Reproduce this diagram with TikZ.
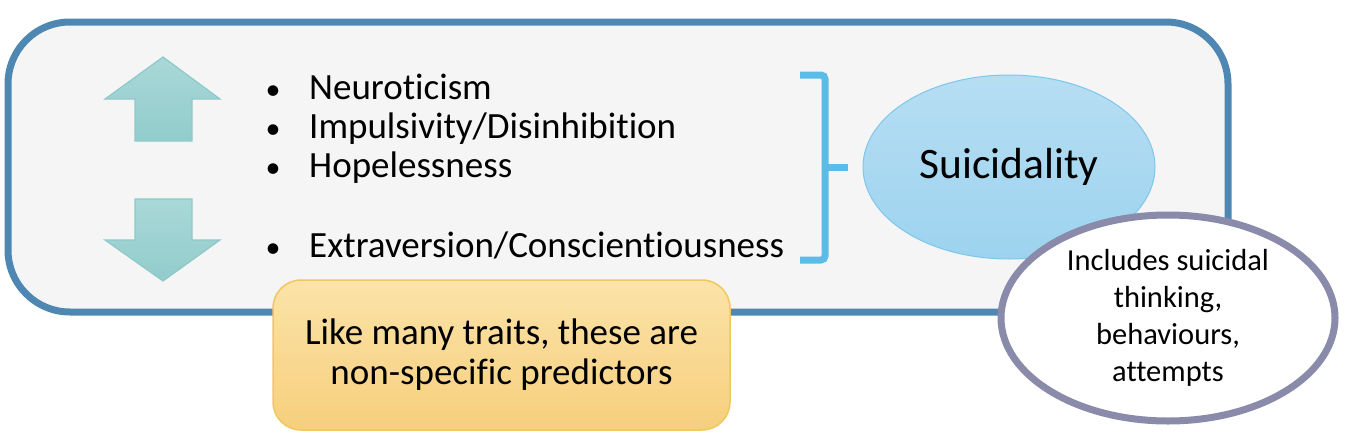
\documentclass[tikz,border=0pt]{standalone}
\usepackage{fontspec}
\setmainfont[Ligatures=NoCommon]{Carlito}
\usetikzlibrary{shapes.geometric}
\definecolor{boxedge}{HTML}{4E88B2}
\definecolor{boxfill}{HTML}{F5F5F5}
\definecolor{arrowtop}{HTML}{A9D8D8}
\definecolor{arrowbot}{HTML}{92CCCC}
\definecolor{arrowedge}{HTML}{8FC9C9}
\definecolor{brack}{HTML}{5CBCE8}
\definecolor{suitop}{HTML}{B6DEF3}
\definecolor{suibot}{HTML}{9DD3EF}
\definecolor{suiedge}{HTML}{7FC7EA}
\definecolor{incedge}{HTML}{8A8AAA}
\definecolor{yeltop}{HTML}{FBE3A8}
\definecolor{yelbot}{HTML}{F6CF7D}
\definecolor{yeledge}{HTML}{F0C860}
\tikzset{
  bigfont/.style={font=\fontsize{37}{40}\selectfont, text=black},
  itemtext/.style={bigfont, anchor=base west, inner sep=0pt},
  bullettext/.style={font=\fontsize{30}{30}\selectfont, text=black, anchor=base, inner sep=0pt},
  arrowshape/.style={top color=arrowtop, bottom color=arrowbot, draw=arrowedge, line width=1.2pt},
}
\begin{document}
\begin{tikzpicture}[x=1pt,y=-1pt]
\useasboundingbox (0,0) rectangle (1346,439);
% main rounded box
\draw[line width=7pt, draw=boxedge, fill=boxfill, rounded corners=62pt] (8,22) rectangle (1228,312);
% arrows
\draw[arrowshape] (163,57) -- (220,99) -- (192,99) -- (192,141) -- (135,141) -- (135,99) -- (105,99) -- cycle;
\draw[arrowshape] (135,199) -- (192,199) -- (192,240) -- (220,240) -- (163,281) -- (105,240) -- (135,240) -- cycle;
% bullet list
\node[bullettext] (b1) at (273,99) {•};
\node[itemtext] (t1) at (309,99) {Neuroticism};
\node[bullettext] (b2) at (273,138) {•};
\node[itemtext] (t2) at (309,138) {Impulsivity/Disinhibition};
\node[bullettext] (b3) at (273,177) {•};
\node[itemtext] (t3) at (309,177) {Hopelessness};
\node[bullettext] (b4) at (273,257) {•};
\node[itemtext] (t4) at (309,257) {Extraversion/Conscientiousness};
% bracket
\draw[brack, line width=7pt, rounded corners=4pt] (800,75) -- (825,75) -- (825,260) -- (800,260);
\draw[brack, line width=7pt] (825,167) -- (848,167);
% suicidality ellipse
\node[ellipse, minimum width=292pt, minimum height=184pt, top color=suitop, bottom color=suibot, draw=suiedge, line width=1pt, font=\fontsize{43.5}{48}\selectfont, inner sep=0pt] (sui) at (1009,167) {Suicidality};
% includes ellipse
\node[ellipse, minimum width=334pt, minimum height=206pt, fill=white, draw=incedge, line width=7pt, font=\fontsize{30.5}{37}\selectfont, align=center, inner sep=0pt] (inc) at (1168,318) {Includes suicidal\\thinking,\\behaviours,\\attempts};
% yellow note
\node[rounded corners=28pt, minimum width=457pt, minimum height=150pt, top color=yeltop, bottom color=yelbot, draw=yeledge, line width=1.5pt, font=\fontsize{37}{40}\selectfont, align=center, inner sep=0pt] (note) at (501.5,355) {Like many traits, these are\\non-specific predictors};
\end{tikzpicture}
\end{document}
